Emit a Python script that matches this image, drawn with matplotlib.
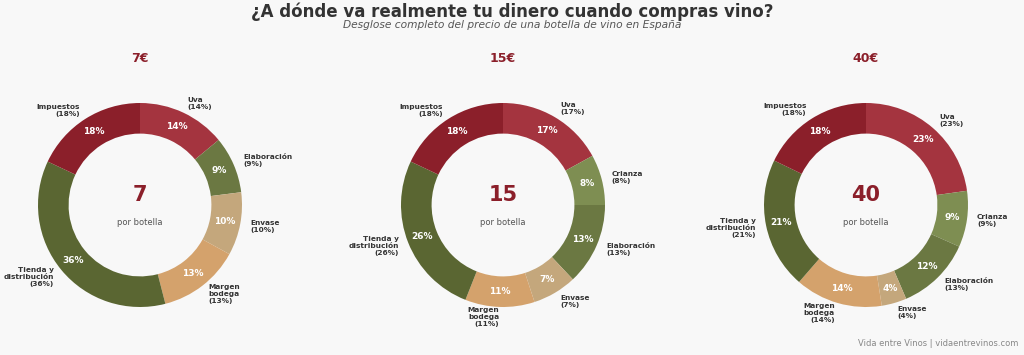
import matplotlib
matplotlib.use("Agg")
import matplotlib.pyplot as plt

# data
prices = [7, 15, 40]
cats_7 = ["Uva", "Elaboración", "Envase", "Margen\nbodega", "Tienda y\ndistribución", "Impuestos"]
vals_7 = [14, 9, 10, 13, 36, 18]
lab_7 = [14, 9, 10, 13, 36, 18]
cats_15 = ["Uva", "Crianza", "Elaboración", "Envase", "Margen\nbodega", "Tienda y\ndistribución", "Impuestos"]
vals_15 = [17, 8, 13, 7, 11, 26, 18]
lab_15 = [17, 8, 13, 7, 11, 26, 18]
cats_40 = ["Uva", "Crianza", "Elaboración", "Envase", "Margen\nbodega", "Tienda y\ndistribución", "Impuestos"]
vals_40 = [23, 9, 12, 4, 14, 21, 18]
lab_40 = [23, 9, 13, 4, 14, 21, 18]

cmap = {"Uva": "#a4343f", "Crianza": "#7e8e52", "Elaboración": "#6b7842",
        "Envase": "#c4a77c", "Margen\nbodega": "#d4a26c",
        "Tienda y\ndistribución": "#5a6632", "Impuestos": "#8b1f2a"}

BG = "#f8f8f8"
W, H = 1024, 355
fig = plt.figure(figsize=(W / 100, H / 100), dpi=100, facecolor=BG)

R = 102      # outer radius in px
LIM = 1.35
side = 2 * LIM * R
centers_x = [140, 503, 866]
cy = 205

panels = [(cats_7, vals_7, lab_7), (cats_15, vals_15, lab_15), (cats_40, vals_40, lab_40)]
for price, cx, (cats, vals, labs) in zip(prices, centers_x, panels):
    ax = fig.add_axes([(cx - side / 2) / W, (H - cy - side / 2) / H, side / W, side / H])
    ax.set_facecolor(BG)
    labels = ["{}\n({}%)".format(c, l) for c, l in zip(cats, labs)]
    wedges, texts, autotexts = ax.pie(
        vals, labels=labels, colors=[cmap[c] for c in cats],
        startangle=90, counterclock=False, autopct="%.0f%%",
        pctdistance=0.85, labeldistance=1.1,
        wedgeprops=dict(width=0.3, edgecolor="none"),
        textprops=dict(fontsize=5.3, fontweight="bold", color="#333333"))
    for t in autotexts:
        t.set_color("white")
        t.set_fontsize(6.5)
        t.set_fontweight("bold")
    ax.text(0, 0.1, str(price), ha="center", va="center", fontsize=15,
            fontweight="bold", color="#8b1f2a")
    ax.text(0, -0.17, "por botella", ha="center", va="center", fontsize=6, color="#555555")
    ax.set_xlim(-LIM, LIM)
    ax.set_ylim(-LIM, LIM)
    ax.set_aspect("equal")
    ax.axis("off")
    fig.text(cx / W, 1 - 59 / H, "{}€".format(price), ha="center", va="center",
             fontsize=9, fontweight="bold", color="#8b1f2a")

fig.text(0.5, 1 - 12 / H, "¿A dónde va realmente tu dinero cuando compras vino?",
         ha="center", va="center", fontsize=12, fontweight="bold", color="#333333")
fig.text(0.5, 1 - 25 / H, "Desglose completo del precio de una botella de vino en España",
         ha="center", va="center", fontsize=7.7, style="italic", color="#555555")
fig.text(1018 / W, 1 - 344 / H, "Vida entre Vinos | vidaentrevinos.com",
         ha="right", va="center", fontsize=6, color="#888888")

fig.savefig("out.png", dpi=100, facecolor=BG)
